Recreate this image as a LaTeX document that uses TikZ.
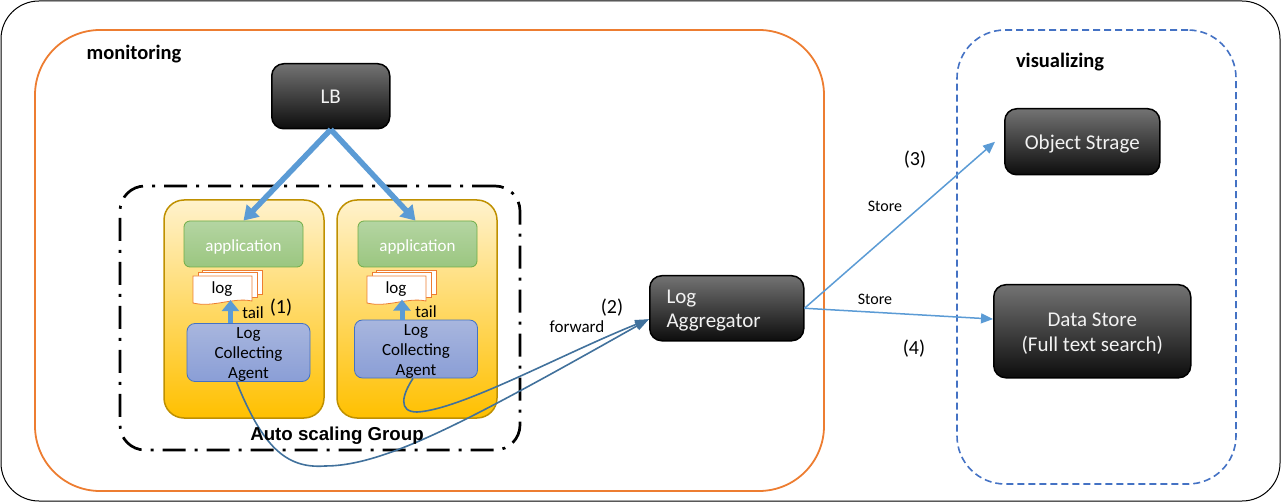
\documentclass[tikz,border=0pt]{standalone}
\usepackage{fontspec}
\setmainfont{Carlito}
\newfontfamily\arialfont{Liberation Sans}
\usepackage{xcolor}
\definecolor{myorange}{RGB}{237,125,49}
\definecolor{myblue}{RGB}{68,114,196}
\definecolor{myarrow}{RGB}{91,155,213}
\definecolor{mycurve}{RGB}{65,113,156}
\definecolor{mygold}{RGB}{191,144,0}
\definecolor{mygreen}{RGB}{112,173,71}
\usetikzlibrary{arrows.meta,positioning,calc,shadings}
\newcommand{\fsize}[1]{\fontsize{#1}{#1}\selectfont}
% taller first line, pushes a node's text down a little
\newcommand{\drop}[1]{\rule{0pt}{#1pt}}
% stack of three log sheets, upper left corner of the front sheet at (#1,#2)
\newcommand{\logstack}[3]{
  \draw[sheet] (#1+9,#2-6) rectangle (#1+69,#2+18);
  \draw[sheet] (#1+5,#2-4) rectangle (#1+64,#2+21);
  \draw[sheet] (#1,#2) -- (#1+59,#2) -- (#1+59,#2+25)
    .. controls (#1+40,#2+21) and (#1+20,#2+32) .. (#1,#2+27) -- cycle;
  \node[font=\fsize{17}] (#3) at (#1+29,#2+13) {log};
}
\begin{document}
\begin{tikzpicture}[
  x=1pt, y=-1pt,
  darkbox/.style={rectangle, draw=black, line width=1.5pt, rounded corners=12pt,
                  top color=black!55, bottom color=black!95, text=white!95!black,
                  align=center, anchor=north west, font=\fsize{21}},
  appbox/.style={rectangle, draw=mygreen, line width=0.8pt, rounded corners=6pt,
                 top color={rgb,255:red,180;green,213;blue,162}, bottom color={rgb,255:red,155;green,198;blue,128},
                 text=white, minimum width=119pt, minimum height=46pt,
                 inner sep=0pt, font=\fsize{17}},
  agentbox/.style={rectangle, draw=myblue, line width=0.8pt, rounded corners=8pt,
                   top color={rgb,255:red,168;green,182;blue,222}, bottom color={rgb,255:red,138;green,158;blue,214},
                   align=center, minimum width=123pt, minimum height=58pt,
                   inner sep=0pt, font=\fsize{17}},
  card/.style={rectangle, draw=mygold, line width=1.5pt, rounded corners=20pt,
               top color={rgb,255:red,255;green,242;blue,204}, bottom color={rgb,255:red,255;green,192;blue,0},
               minimum width=160pt, minimum height=218pt, inner sep=0pt},
  sheet/.style={draw=myorange, fill=white, line width=0.8pt},
  label/.style={font=\fsize{20}},
  small/.style={font=\fsize{16}},
  title/.style={font=\fsize{20.5}\bfseries},
  fat/.style={draw=myarrow, line width=5.5pt, -{Triangle[length=14pt,width=17pt]}},
  up/.style={draw=myarrow, line width=5pt, -{Triangle[length=11pt,width=17pt]}},
  thin/.style={draw=myarrow, line width=1.5pt, -{Triangle[length=12pt,width=10pt]}},
  curve/.style={draw=mycurve, line width=1.6pt, -{Triangle[length=14pt,width=9pt]}}
]
  \useasboundingbox (0,0) rectangle (1281,502);
  % frames
  \node[draw=black, line width=1pt, rounded corners=38pt, minimum width=1279pt, minimum height=500pt, inner sep=0pt] (outer) at (640.5,251) {};
  \node[draw=myorange, line width=1.8pt, rounded corners=65pt, minimum width=789pt, minimum height=461pt, inner sep=0pt] (monitor) at (429.5,260.5) {};
  \node[draw=myblue, line width=1.6pt, dash pattern=on 7pt off 4pt, rounded corners=48pt, minimum width=279pt, minimum height=454pt, inner sep=0pt] (visual) at (1096.5,257) {};
  \node[draw=black, line width=2.7pt, dash pattern=on 23pt off 9pt on 3pt off 9pt, rounded corners=25pt, minimum width=400pt, minimum height=264pt, inner sep=0pt] (group) at (320,318) {};
  % instances
  \node[card] (card1) at (244,309) {};
  \node[card] (card2) at (417,309) {};
  \node[appbox] (app1) at (243.5,244) {\drop{17.5}application};
  \node[appbox] (app2) at (417.5,244) {\drop{17.5}application};
  \logstack{193}{276}{log1}
  \logstack{367}{276}{log2}
  \node[agentbox] (agent1) at (248.5,352.5) {\drop{15}Log\\[3pt]Collecting\\[3pt]Agent};
  \node[agentbox] (agent2) at (416,349) {\drop{15}Log\\[3pt]Collecting\\[3pt]Agent};
  % dark boxes
  \node[darkbox, minimum width=118pt, minimum height=65pt] (lb) at (271,63) {\drop{15.5}LB};
  \node[darkbox, minimum width=155pt, minimum height=66pt] (obj) at (1004,108) {\drop{19.5}Object Strage};
  \node[darkbox, minimum width=197pt, minimum height=93pt] (ds) at (993,284) {\drop{19}Data Store\\[4pt](Full text search)};
  \node[darkbox, minimum width=154pt, minimum height=65pt] (agg) at (649,275) {};
  \node[font=\fsize{21}, text=white!95!black, align=left, anchor=west] (aggtext) at (663,311) {Log\\[3pt]Aggregator};
  % arrows
  \draw[fat] (lb.south) -- (app1.north);
  \draw[fat] (lb.south) -- ([xshift=-2pt]app2.north);
  \draw[up] ([xshift=-18pt]agent1.north) -- ++(0,-23);
  \draw[up] ([xshift=-14pt]agent2.north) -- ++(0,-20);
  \draw[curve] (agent1.south) ++(-12,0) .. controls (262,445) and (285,469) .. (325,466)
    .. controls (385,466) and (470,420) .. (agg.188);
  \draw[curve] (agent2.south) ++(-3,0) .. controls (402,395) and (398,412) .. (417,412)
    .. controls (460,410) and (560,355) .. (agg.188);
  \draw[thin] (agg.east) -- ([xshift=-9pt]obj.west);
  \draw[thin] (agg.east) -- (ds.173);
  % labels
  \node[title] (monlabel) at (134,54) {monitoring};
  \node[title] (vislabel) at (1060,62) {visualizing};
  \node[font=\arialfont\fsize{18.7}\bfseries] (grouplabel) at (337,436) {Auto scaling Group};
  \node[font=\fsize{17}] (tail1) at (253,313) {tail};
  \node[font=\fsize{17}] (tail2) at (426,312) {tail};
  \node[label] (n1) at (281,308) {(1)};
  \node[label] (n2) at (612,308) {(2)};
  \node[label] (n3) at (915,160) {(3)};
  \node[label] (n4) at (914,349) {(4)};
  \node[small, font=\fsize{17}] (fwd) at (577,327) {forward};
  \node[small] (store1) at (885,206) {Store};
  \node[small] (store2) at (875,299) {Store};
\end{tikzpicture}
\end{document}
